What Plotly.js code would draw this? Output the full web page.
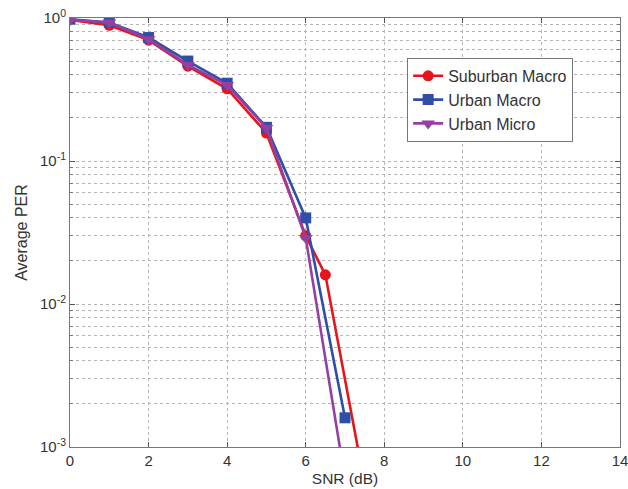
<!DOCTYPE html>
<html><head><meta charset="utf-8">
<script src="https://cdn.plot.ly/plotly-3.0.1.min.js"></script>
<style>html,body{margin:0;padding:0;background:#fff;}#chart{width:628px;height:489px;}</style>
</head><body><div id="chart"></div>
<script>
const seriesNames = ["Suburban Macro", "Urban Macro", "Urban Micro"];
const suburbanX = [0, 1, 2, 3, 4, 5, 6, 6.5, 7.5];
const suburbanY = [0.97, 0.89, 0.70, 0.46, 0.32, 0.157, 0.030, 0.016, 0.00055];
const urbanMacroX = [0, 1, 2, 3, 4, 5, 6, 7];
const urbanMacroY = [0.98, 0.93, 0.73, 0.50, 0.35, 0.172, 0.040, 0.0016];
const urbanMicroX = [0, 1, 2, 3, 4, 5, 6, 7];
const urbanMicroY = [0.97, 0.93, 0.71, 0.47, 0.34, 0.170, 0.029, 0.0006];
const yTickVals = [0.001, 0.01, 0.1, 1];
const yTickText = ["10<sup>-3</sup>", "10<sup>-2</sup>", "10<sup>-1</sup>", "10<sup>0</sup>"];
const xTickVals = [0, 2, 4, 6, 8, 10, 12, 14];

const minorVals = [];
[0.001, 0.01, 0.1].forEach(d => { for (let k = 2; k <= 9; k++) minorVals.push(d * k); });

const colors = ["#e8141c", "#2f4ea6", "#963fa3"];
const symbols = ["circle", "square", "triangle-down"];
const xs = [suburbanX, urbanMacroX, urbanMicroX];
const ys = [suburbanY, urbanMacroY, urbanMicroY];

const traces = seriesNames.map((n, i) => ({
  x: xs[i], y: ys[i], name: n, type: "scatter", mode: "lines+markers",
  line: {color: colors[i], width: 2.6},
  marker: {color: colors[i], symbol: symbols[i], size: i === 2 ? 12 : 11}
}));

const gridc = "#b5b5b5";
const layout = {
  width: 628, height: 489,
  margin: {l: 70, r: 8, t: 18, b: 42},
  paper_bgcolor: "#fff", plot_bgcolor: "#fff",
  font: {family: "Liberation Sans, Arial, sans-serif", size: 15, color: "#333"},
  showlegend: true,
  legend: {x: 0.613, y: 0.907, xanchor: "left", yanchor: "top", bgcolor: "#fff",
    bordercolor: "#777", borderwidth: 1, font: {size: 16, color: "#333"}, tracegroupgap: 0},
  xaxis: {
    range: [0, 14], tickvals: xTickVals, ticks: "inside", ticklen: 5, tickcolor: "#555",
    ticklabeloverflow: "allow",
    showline: true, linecolor: "#777", linewidth: 1, mirror: "ticks",
    showgrid: true, gridcolor: gridc, griddash: "dot", gridwidth: 1, zeroline: false,
    tickfont: {size: 15, color: "#333"},
    title: {text: "SNR (dB)", font: {size: 15.5, color: "#333"}, standoff: 5}
  },
  yaxis: {
    type: "log", range: [-3, 0], tickmode: "array", tickvals: yTickVals, ticktext: yTickText,
    ticks: "inside", ticklen: 5, tickcolor: "#555",
    ticklabeloverflow: "allow",
    showline: true, linecolor: "#777", linewidth: 1, mirror: "ticks",
    showgrid: true, gridcolor: gridc, griddash: "dot", gridwidth: 1, zeroline: false,
    tickfont: {size: 15, color: "#333"},
    minor: {tickmode: "array", tickvals: minorVals, ticks: "inside", ticklen: 3, tickcolor: "#777",
      showgrid: true, gridcolor: gridc, griddash: "dot", gridwidth: 1},
    title: {text: "Average PER", font: {size: 16, color: "#333"}, standoff: 8}
  }
};
Plotly.newPlot("chart", traces, layout, {displayModeBar: false, staticPlot: true});
</script></body></html>
